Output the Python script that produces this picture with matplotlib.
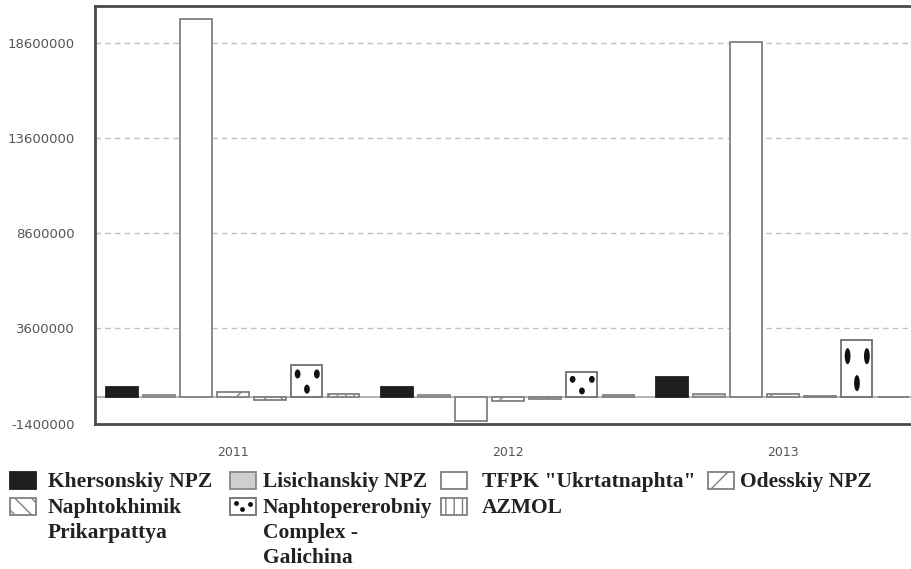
import matplotlib.pyplot as plt
import numpy as np
from matplotlib.patches import Rectangle, Ellipse

years = ['2011', '2012', '2013']
refineries = ['Khersonskiy NPZ', 'Lisichanskiy NPZ', 'TFPK "Ukrtatnaphta"', 'Odesskiy NPZ',
              'Naphtokhimik\nPrikarpattya', 'Naphtopererobniy\nComplex -\nGalichina', 'AZMOL']

# values
khersonskiy = [510000, 510000, 1060000]
lisichanskiy = [80000, 80000, 130000]
tfpk = [19900000, -1270000, 18650000]
odesskiy = [250000, -200000, 150000]
naphtokhimik = [-150000, -100000, 70000]
galichina = [1700000, 1300000, 3020000]
azmol = [130000, 100000, 0]
yticks = [-1400000, 3600000, 8600000, 13600000, 18600000]

series = [khersonskiy, lisichanskiy, tfpk, odesskiy, naphtokhimik, galichina, azmol]
# (face, edge, hatch)
styles = [('#1e1e1e', '#1e1e1e', None),
          ('#cfcfcf', '#888888', None),
          ('white', '#808080', None),
          ('white', '#808080', '/'),
          ('white', '#808080', '\\\\'),
          ('white', '#707070', None),
          ('white', '#808080', '||')]

plt.rcParams['hatch.linewidth'] = 1.0

fig = plt.figure(figsize=(9.12, 5.69), dpi=100)
ax = fig.add_axes([0.1047, 0.2557, 0.9046, 0.7338])

x = np.arange(len(years))
width = 0.113
step = 0.1345
for i, vals in enumerate(series):
    face, edge, hatch = styles[i]
    ax.bar(x + (i - 3) * step, vals, width, color=face, edgecolor=edge,
           hatch=hatch, linewidth=1.3, zorder=3)

# dot fill of the Galichina bars
for xi, h in zip(x + 2 * step, galichina):
    for dx, fy in [(-0.034, 0.71), (0.036, 0.71), (0.0, 0.24)]:
        ax.add_patch(Ellipse((xi + dx, fy * h), 0.021, 0.28 * h,
                             facecolor='#111111', edgecolor='none', zorder=4))

ax.axhline(0, color='#a0a0a0', lw=1.1, zorder=2)
ax.set_xlim(-0.5, 2.5)
ax.set_ylim(-1400000, 20570000)
ax.set_yticks(yticks)
ax.set_yticklabels([str(v) for v in yticks])
ax.set_xticks(x)
ax.set_xticklabels(years)
ax.yaxis.grid(True, color='#c0c0c0', linestyle=(0, (4, 3)), linewidth=1)
ax.set_axisbelow(True)
ax.tick_params(axis='y', length=0, pad=15, labelsize=9.5, labelcolor='#555555')
ax.tick_params(axis='x', length=0, pad=16, labelsize=9, labelcolor='#555555')
for s in ['left', 'top', 'bottom']:
    ax.spines[s].set_color('#4a4a4a')
    ax.spines[s].set_linewidth(2)
ax.spines['right'].set_visible(False)

# legend drawn in pixel coordinates
lax = fig.add_axes([0, 0, 1, 1])
lax.set_xlim(0, 912)
lax.set_ylim(569, 0)
lax.axis('off')

sw_x = [10, 230, 441, 708]
tx_x = [48, 263, 482, 740]
sw_top = [472, 497.5]
base_y = [487, 513]
for i, lab in enumerate(refineries):
    r, c = divmod(i, 4)
    face, edge, hatch = styles[i]
    lax.add_patch(Rectangle((sw_x[c], sw_top[r]), 26, 17, facecolor=face,
                            edgecolor=edge, hatch=hatch, linewidth=1.3))
    if lab.startswith('Naphtopererobniy'):
        lax.plot([sw_x[c] + 6, sw_x[c] + 12, sw_x[c] + 20],
                 [sw_top[r] + 5, sw_top[r] + 11, sw_top[r] + 6],
                 'o', color='#111111', markersize=3.5, markeredgewidth=0)
    for k, line in enumerate(lab.split('\n')):
        lax.text(tx_x[c], base_y[r] + k * 25, line, fontsize=15.5,
                 family='Liberation Serif', fontweight='bold', color='#222222',
                 va='baseline', ha='left')

fig.savefig('out.png', dpi=100)
